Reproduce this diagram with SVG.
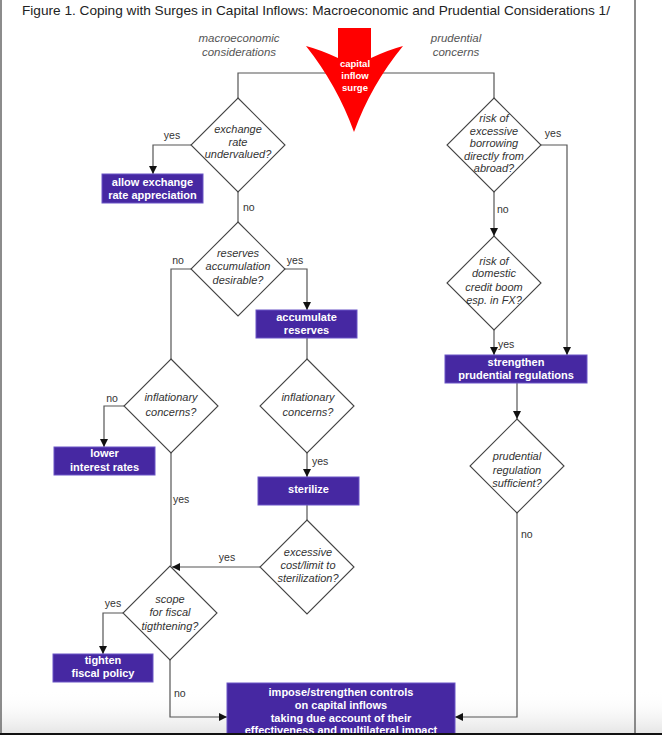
<svg xmlns="http://www.w3.org/2000/svg" width="662" height="735" viewBox="0 0 662 735">
<style>
.title{font-family:"Liberation Sans",Arial,sans-serif;font-size:13.5px;fill:#222}
.hdr{font-family:"Liberation Sans",Arial,sans-serif;font-size:11.5px;font-style:italic;fill:#555;text-anchor:middle}
.dia{fill:#fff;stroke:#444;stroke-width:1.1}
.dt{font-family:"Liberation Sans",Arial,sans-serif;font-size:11px;font-style:italic;fill:#333;text-anchor:middle}
.box{fill:#4628a2;stroke:#6a55c6;stroke-width:1}
.bt{font-family:"Liberation Sans",Arial,sans-serif;font-size:11px;font-weight:bold;fill:#fff;text-anchor:middle}
.lbl{font-family:"Liberation Sans",Arial,sans-serif;font-size:10.5px;fill:#333}
.c{fill:none;stroke:#555;stroke-width:1.2}
.arr{marker-end:url(#ah)}
</style>
<defs>
<marker id="ah" markerUnits="userSpaceOnUse" markerWidth="8" markerHeight="8" refX="8" refY="4" orient="auto">
<path d="M0,0 L8,4 L0,8 z" fill="#111"/>
</marker>
<linearGradient id="bg" x1="0" y1="0" x2="0" y2="1">
<stop offset="0" stop-color="#fff" stop-opacity="0"/>
<stop offset="1" stop-color="#e6e6e6"/>
</linearGradient>
</defs>
<rect width="662" height="735" fill="#fff"/>
<rect x="0" y="690" width="662" height="43" fill="url(#bg)"/>
<line x1="1" y1="0" x2="1" y2="733" stroke="#666" stroke-width="1.5"/>
<line x1="635" y1="0" x2="635" y2="733" stroke="#666" stroke-width="1.5"/>

<text class="title" x="22" y="15" textLength="588" lengthAdjust="spacingAndGlyphs">Figure 1. Coping with Surges in Capital Inflows: Macroeconomic and Prudential Considerations 1/</text>
<text class="hdr" x="239" y="42">macroeconomic</text>
<text class="hdr" x="239" y="56">considerations</text>
<text class="hdr" x="456" y="42">prudential</text>
<text class="hdr" x="456" y="56">concerns</text>

<g id="connectors">
<path class="c" d="M238,98 V73 H494 V98"/>
<path class="c arr" d="M191,145 H153 V174"/>
<path class="c" d="M238,192 V222"/>
<path class="c arr" d="M285,269 H307 V310"/>
<path class="c" d="M191,269 H171 V359"/>
<path class="c" d="M307,338 V359"/>
<path class="c arr" d="M124,406 H104 V447"/>
<path class="c" d="M171,453 V566"/>
<path class="c arr" d="M307,453 V477"/>
<path class="c" d="M307,505 V520"/>
<path class="c arr" d="M260,567 H172"/>
<path class="c arr" d="M123,613 H103 V654"/>
<path class="c arr" d="M170,660 V717 H227"/>
<path class="c arr" d="M541,145 H567 V355"/>
<path class="c arr" d="M494,192 V236"/>
<path class="c arr" d="M494,330 V355"/>
<path class="c arr" d="M517,383 V419"/>
<path class="c arr" d="M517,513 V717 H455"/>
</g>

<g id="surge">
<path d="M338,28 H371 V58 Q388,50 403,46 Q371,85 354,132 Q337,85 306,46 Q321,50 338,58 Z" fill="#ff0000"/>
<text class="bt" x="355" y="67" style="font-size:9.5px">capital</text>
<text class="bt" x="355" y="79" style="font-size:9.5px">inflow</text>
<text class="bt" x="355" y="91" style="font-size:9.5px">surge</text>
</g>

<g id="d1">
<path class="dia" d="M238,98 L285,145 L238,192 L191,145 Z"/>
<text class="dt" x="238" y="133">exchange</text>
<text class="dt" x="238" y="146">rate</text>
<text class="dt" x="238" y="158">undervalued?</text>
</g>
<g id="allow">
<rect class="box" x="102" y="174" width="101" height="29"/>
<text class="bt" x="152.5" y="186">allow exchange</text>
<text class="bt" x="152.5" y="199">rate appreciation</text>
</g>
<g id="d2">
<path class="dia" d="M238,222 L285,269 L238,316 L191,269 Z"/>
<text class="dt" x="238" y="257">reserves</text>
<text class="dt" x="238" y="270">accumulation</text>
<text class="dt" x="238" y="284">desirable?</text>
</g>
<g id="accumulate">
<rect class="box" x="256" y="310" width="101" height="28"/>
<text class="bt" x="306.5" y="321">accumulate</text>
<text class="bt" x="306.5" y="334">reserves</text>
</g>
<g id="l3">
<path class="dia" d="M171,359 L218,406 L171,453 L124,406 Z"/>
<text class="dt" x="171" y="401">inflationary</text>
<text class="dt" x="171" y="416">concerns?</text>
</g>
<g id="lower">
<rect class="box" x="54" y="447" width="101" height="28"/>
<text class="bt" x="104.5" y="457">lower</text>
<text class="bt" x="104.5" y="471">interest rates</text>
</g>
<g id="m3">
<path class="dia" d="M307,359 L354,406 L307,453 L260,406 Z"/>
<text class="dt" x="308" y="401">inflationary</text>
<text class="dt" x="308" y="416">concerns?</text>
</g>
<g id="sterilize">
<rect class="box" x="258" y="477" width="101" height="28"/>
<text class="bt" x="308.5" y="493">sterilize</text>
</g>
<g id="m4">
<path class="dia" d="M307,520 L354,567 L307,614 L260,567 Z"/>
<text class="dt" x="308" y="556">excessive</text>
<text class="dt" x="308" y="569">cost/limit to</text>
<text class="dt" x="308" y="582">sterilization?</text>
</g>
<g id="scope">
<path class="dia" d="M170,566 L217,613 L170,660 L123,613 Z"/>
<text class="dt" x="170" y="603">scope</text>
<text class="dt" x="170" y="616">for fiscal</text>
<text class="dt" x="170" y="630">tigthtening?</text>
</g>
<g id="tighten">
<rect class="box" x="53" y="654" width="100" height="28"/>
<text class="bt" x="103" y="664">tighten</text>
<text class="bt" x="103" y="677">fiscal policy</text>
</g>
<g id="r1">
<path class="dia" d="M494,98 L541,145 L494,192 L447,145 Z"/>
<text class="dt" x="494" y="122">risk of</text>
<text class="dt" x="494" y="135">excessive</text>
<text class="dt" x="494" y="147">borrowing</text>
<text class="dt" x="494" y="160">directly from</text>
<text class="dt" x="494" y="172">abroad?</text>
</g>
<g id="r2">
<path class="dia" d="M494,236 L541,283 L494,330 L447,283 Z"/>
<text class="dt" x="494" y="265">risk of</text>
<text class="dt" x="494" y="277">domestic</text>
<text class="dt" x="494" y="291">credit boom</text>
<text class="dt" x="494" y="304">esp. in FX?</text>
</g>
<g id="strengthen">
<rect class="box" x="445" y="355" width="142" height="28"/>
<text class="bt" x="516" y="366">strengthen</text>
<text class="bt" x="516" y="379">prudential regulations</text>
</g>
<g id="r3">
<path class="dia" d="M517,419 L564,466 L517,513 L470,466 Z"/>
<text class="dt" x="517" y="460">prudential</text>
<text class="dt" x="517" y="474">regulation</text>
<text class="dt" x="517" y="487">sufficient?</text>
</g>
<g id="impose">
<rect class="box" x="227" y="683" width="228" height="60"/>
<text class="bt" x="341" y="696">impose/strengthen controls</text>
<text class="bt" x="341" y="709">on capital inflows</text>
<text class="bt" x="341" y="722">taking due account of their</text>
<text class="bt" x="341" y="734">effectiveness and multilateral impact</text>
</g>

<g id="labels">
<text class="lbl" x="172" y="139" text-anchor="middle">yes</text>
<text class="lbl" x="243" y="211">no</text>
<text class="lbl" x="178" y="264" text-anchor="middle">no</text>
<text class="lbl" x="295" y="264" text-anchor="middle">yes</text>
<text class="lbl" x="112" y="402" text-anchor="middle">no</text>
<text class="lbl" x="173" y="503">yes</text>
<text class="lbl" x="312" y="465">yes</text>
<text class="lbl" x="227" y="561" text-anchor="middle">yes</text>
<text class="lbl" x="113" y="607" text-anchor="middle">yes</text>
<text class="lbl" x="174" y="697">no</text>
<text class="lbl" x="553" y="137" text-anchor="middle">yes</text>
<text class="lbl" x="497" y="213">no</text>
<text class="lbl" x="498" y="348">yes</text>
<text class="lbl" x="521" y="538">no</text>
</g>
<rect x="0" y="733" width="662" height="2" fill="#111"/>
</svg>
